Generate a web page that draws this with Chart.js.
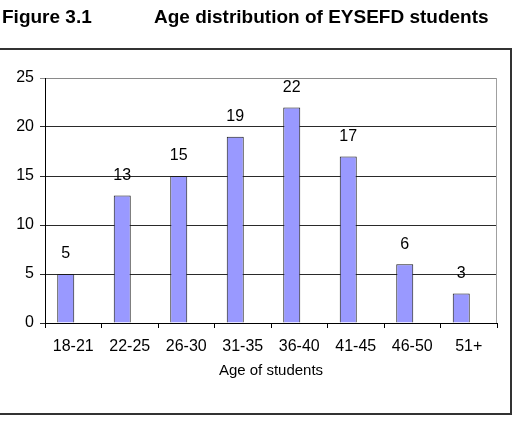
<!DOCTYPE html>
<html>
<head>
<meta charset="utf-8">
<script src="https://cdn.jsdelivr.net/npm/chart.js@4"></script>
<style>
  html, body { margin: 0; padding: 0; background: #fff; }
  #wrap { position: relative; width: 532px; height: 426px; overflow: hidden; background: #fff; }
  canvas { position: absolute; left: 0; top: 0; }
  .t { position: absolute; top: 7px; font: bold 19px "Liberation Sans", Arial, sans-serif; line-height: 19px; color: #000; white-space: nowrap; }
  #box { position: absolute; left: -2px; top: 48px; width: 514px; height: 367px; box-sizing: border-box; border: 2px solid #333; pointer-events: none; }
</style>
</head>
<body>
<div id="wrap">
  <canvas id="c" width="532" height="426"></canvas>
  <div id="box"></div>
  <div class="t" style="left:2px">Figure 3.1</div>
  <div class="t" style="left:154px">Age distribution of EYSEFD students</div>
</div>
<script>
const categories = ["18-21", "22-25", "26-30", "31-35", "36-40", "41-45", "46-50", "51+"];
const students = [5, 13, 15, 19, 22, 17, 6, 3];
const yTicks = [0, 5, 10, 15, 20, 25];
const xTitle = "Age of students";

Chart.defaults.font.family = '"Liberation Sans", Arial, sans-serif';
Chart.defaults.color = '#000';

const valueLabels = {
  id: 'valueLabels',
  afterDatasetsDraw(chart) {
    const ctx = chart.ctx;
    const meta = chart.getDatasetMeta(0);
    ctx.save();
    ctx.font = '16px "Liberation Sans", Arial, sans-serif';
    ctx.fillStyle = '#000';
    ctx.textAlign = 'center';
    ctx.textBaseline = 'middle';
    meta.data.forEach((el, i) => {
      ctx.fillText(String(chart.data.datasets[0].data[i]), el.x, el.y - 20);
    });
    ctx.restore();
  }
};

const plotBorder = {
  id: 'plotBorder',
  beforeDatasetsDraw(chart) {
    const {ctx, chartArea: a} = chart;
    ctx.save();
    ctx.strokeStyle = '#a0a0a0';
    ctx.lineWidth = 1;
    ctx.beginPath();
    ctx.moveTo(Math.round(a.right) - 0.5, a.top);
    ctx.lineTo(Math.round(a.right) - 0.5, a.bottom);
    ctx.stroke();
    ctx.restore();
  }
};

new Chart(document.getElementById('c'), {
  type: 'bar',
  data: {
    labels: categories,
    datasets: [
      {
        label: 'Students',
        data: students,
        backgroundColor: '#9999FF',
        borderColor: '#1a1a1a',
        borderWidth: 1,
        categoryPercentage: 0.531,
        barPercentage: 1.133
      },
      {
        label: '',
        data: [],
        categoryPercentage: 0.531,
        barPercentage: 1.133
      }
    ]
  },
  options: {
    responsive: false,
    animation: false,
    layout: { padding: { left: 0, right: 35, top: 78, bottom: 0 } },
    plugins: {
      legend: { display: false },
      tooltip: { enabled: false },
      title: { display: false }
    },
    scales: {
      x: {
        grid: { display: true, drawOnChartArea: false, drawTicks: true, tickLength: 5, color: '#000', offset: true },
        border: { display: true, color: '#000', width: 1 },
        ticks: { font: { size: 16 }, padding: 9, color: '#000', maxRotation: 0, autoSkip: false },
        title: { display: true, text: xTitle, font: { size: 15 }, color: '#000', padding: { top: 4, bottom: 46 } },
        afterFit(scale) { scale.height = 103; }
      },
      y: {
        min: 0,
        max: 25,
        afterBuildTicks(scale) { scale.ticks = yTicks.map(v => ({ value: v })); },
        grid: {
          color: (c) => (c.tick && c.tick.value === 25) ? '#8a8a8a' : '#2a2a2a',
          tickLength: 5,
          drawTicks: true
        },
        border: { display: true, color: '#000', width: 1 },
        ticks: { font: { size: 16 }, padding: 6, color: '#000' },
        afterFit(scale) { scale.width = 45; }
      }
    }
  },
  plugins: [plotBorder, valueLabels]
});
</script>
</body>
</html>
